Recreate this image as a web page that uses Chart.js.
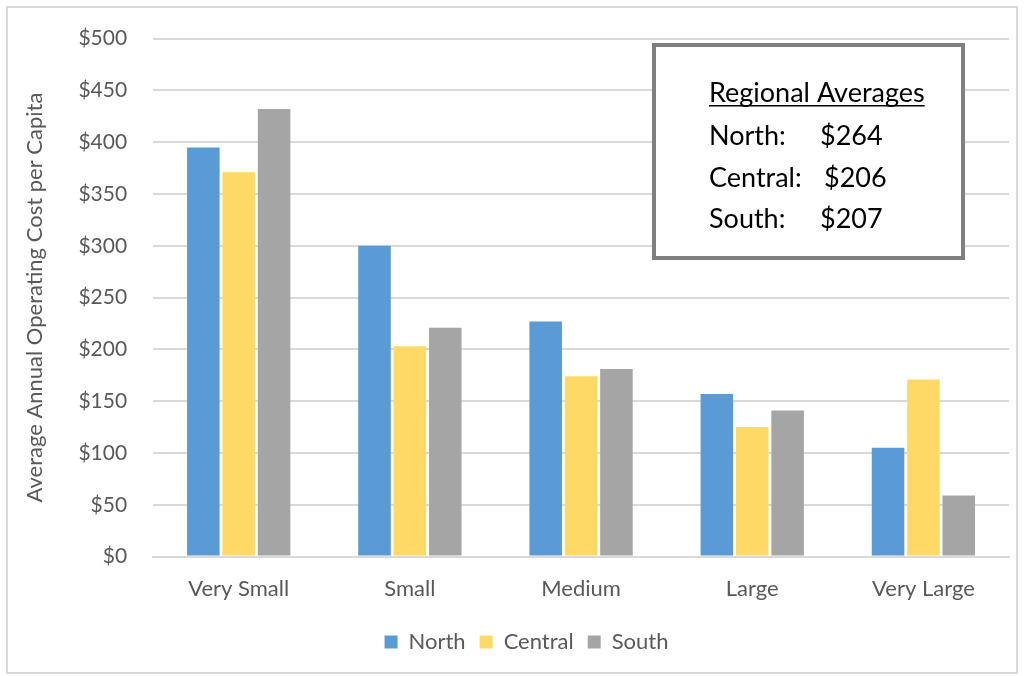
<!DOCTYPE html>
<html>
<head>
<meta charset="utf-8">
<script src="https://cdn.jsdelivr.net/npm/chart.js@4"></script>
<style>
  html, body { margin: 0; padding: 0; background: #fff; }
  #wrap { width: 1024px; height: 676px; position: relative; }
</style>
</head>
<body>
<div id="wrap"><canvas id="costChart" width="1024" height="676"></canvas></div>
<script>
// chart data
const categories = ['Very Small', 'Small', 'Medium', 'Large', 'Very Large'];
const northValues = [395, 300, 227, 157, 105];
const centralValues = [371, 203, 174, 125, 171];
const southValues = [432, 221, 181, 141, 59];
const averageLabels = ['North:', 'Central:', 'South:'];
const averageValues = ['$264', '$206', '$207'];

const fontFamily = 'Lato, "Open Sans", sans-serif';
const textColor = '#595959';

// outer border + regional averages box
const extrasPlugin = {
    id: 'extras',
    afterUpdate(chart) {
        // legend sits a little right of centre in the original
        chart.legend.left += 11;
        chart.legend.right += 11;
    },
    afterDraw(chart) {
        const ctx = chart.ctx;
        ctx.save();
        ctx.strokeStyle = '#d9d9d9';
        ctx.lineWidth = 2;
        ctx.strokeRect(7, 7, 1010, 666);

        ctx.fillStyle = '#ffffff';
        ctx.fillRect(654, 45, 309, 213);
        ctx.strokeStyle = '#7f7f7f';
        ctx.lineWidth = 4;
        ctx.strokeRect(654, 45, 309, 213);

        ctx.fillStyle = '#000000';
        ctx.font = '27px ' + fontFamily;
        ctx.textBaseline = 'alphabetic';
        ctx.textAlign = 'left';
        const title = 'Regional Averages';
        ctx.fillText(title, 709, 102);
        const w = ctx.measureText(title).width;
        ctx.fillRect(709, 105, w, 1.5);
        const baselines = [145, 187, 228];
        const valueX = [820, 824, 820];
        averageLabels.forEach((lab, i) => {
            ctx.fillText(lab, 709, baselines[i]);
            ctx.fillText(averageValues[i], valueX[i], baselines[i]);
        });
        ctx.restore();
    }
};

const ctx = document.getElementById('costChart').getContext('2d');
new Chart(ctx, {
    type: 'bar',
    data: {
        labels: categories,
        datasets: [
            { label: 'North', data: northValues, backgroundColor: '#5b9bd5' },
            { label: 'Central', data: centralValues, backgroundColor: '#ffd966' },
            { label: 'South', data: southValues, backgroundColor: '#a5a5a5' }
        ]
    },
    options: {
        responsive: false,
        animation: false,
        layout: { padding: { left: 22, right: 15, top: 18, bottom: 13 } },
        datasets: {
            bar: { categoryPercentage: 0.62, barPercentage: 0.92 }
        },
        plugins: {
            legend: {
                position: 'bottom',
                labels: {
                    boxWidth: 13,
                    boxHeight: 13,
                    padding: 14,
                    color: textColor,
                    font: { family: fontFamily, size: 22 }
                }
            },
            tooltip: { enabled: false }
        },
        scales: {
            x: {
                grid: { display: false, drawTicks: false },
                border: { display: true, color: '#d9d9d9', width: 2 },
                ticks: {
                    color: textColor,
                    padding: 19,
                    font: { family: fontFamily, size: 22 }
                },
                // pull the legend closer to the axis labels
                afterFit: scale => { scale.height -= 4; }
            },
            y: {
                min: 0,
                max: 500,
                grid: { color: '#d9d9d9', lineWidth: 2, drawTicks: false },
                border: { display: false },
                ticks: {
                    stepSize: 50,
                    padding: 26,
                    color: textColor,
                    font: { family: fontFamily, size: 21 },
                    callback: v => '$' + v
                },
                title: {
                    display: true,
                    text: 'Average Annual Operating Cost per Capita',
                    color: textColor,
                    padding: { top: 0, bottom: 4 },
                    font: { family: fontFamily, size: 22 }
                }
            }
        }
    },
    plugins: [extrasPlugin]
});
</script>
</body>
</html>
